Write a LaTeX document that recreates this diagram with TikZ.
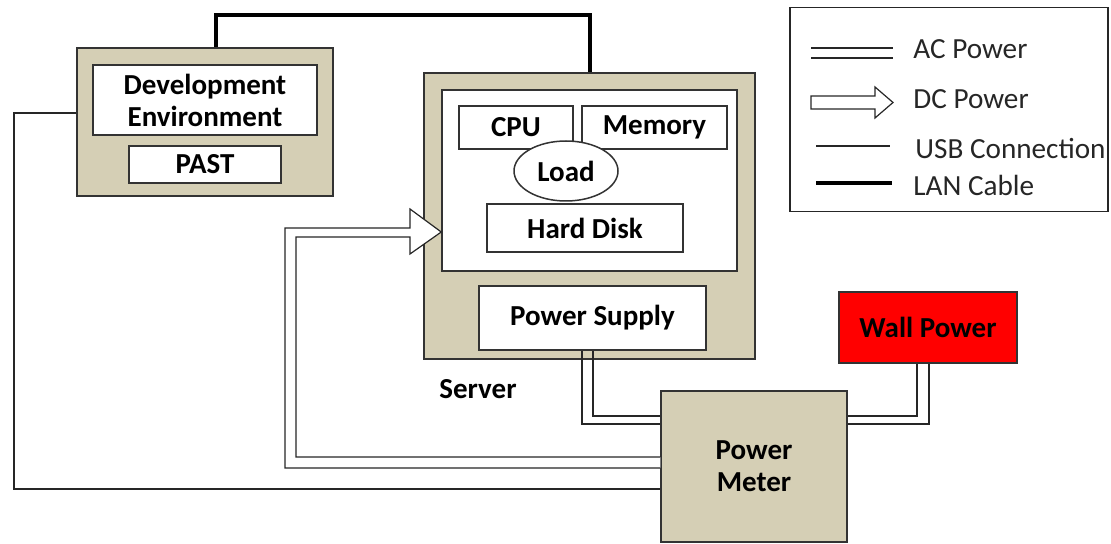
\documentclass[tikz,border=0pt]{standalone}
\usepackage{fontspec}
\setmainfont{Carlito}
\usetikzlibrary{shapes.geometric}
\definecolor{tan}{RGB}{213,207,181}
\begin{document}
\begin{tikzpicture}[x=0.5pt,y=-0.5pt,
  frame/.style={draw=black!80,line width=0.75pt,fill=tan,inner sep=0pt},
  part/.style={draw=black!80,line width=0.75pt,fill=white,inner sep=0pt,
    font=\bfseries\fontsize{14.5}{16}\selectfont,align=center},
  wire/.style={draw=black!85,line width=0.6pt},
  lan/.style={draw=black,line width=1.7pt},
  key/.style={anchor=west,inner sep=0pt,font=\fontsize{14.6}{16}\selectfont,text=black!85}]
\useasboundingbox (0,0) rectangle (1111,544);
% development machine
\node[frame,minimum width=128pt,minimum height=74pt] (dev) at (205,122) {};
\node[part,minimum width=112pt,minimum height=35pt] (devenv) at (205,100) {Development\\Environment};
\node[part,minimum width=76pt,minimum height=18.5pt] (past) at (205,164.5) {PAST};
% server
\node[frame,minimum width=165.5pt,minimum height=143pt] (srv) at (589.5,216) {};
\node[part,minimum width=147.5pt,minimum height=90.5pt] (srvin) at (589.5,180.5) {};
\node[part,minimum width=57pt,minimum height=21.5pt] (cpu) at (516,127.5) {CPU};
\node[part,minimum width=72.5pt,minimum height=21.5pt] (mem) at (654.5,127.5) {Memory};
\node[part,ellipse,minimum width=52pt,minimum height=30pt] (load) at (566,171) {Load};
\node[part,minimum width=98pt,minimum height=24pt] (disk) at (585,228) {Hard Disk};
\node[part,minimum width=113.5pt,minimum height=32pt] (psu) at (592.5,318) {Power Supply};
\node[font=\bfseries\fontsize{14.5}{16}\selectfont] (srvlbl) at (478,389) {Server};
% wall and meter
\node[part,fill=red,minimum width=89pt,minimum height=35.5pt] (wall) at (928,327.5) {Wall Power};
\node[frame,font=\bfseries\fontsize{14.5}{16}\selectfont,align=center,
  minimum width=93pt,minimum height=75.5pt] (meter) at (754,466.5) {Power\\Meter};
% LAN cable
\draw[lan] (dev.north -| 216,0) |- (590,15) -- (srv.north -| 590,0);
% USB connection
\draw[wire] (dev.west |- 0,113) -| (14,489) -- (meter.west |- 0,489);
% AC power
\draw[wire] (psu.south -| 582,0) |- (meter.west |- 0,424);
\draw[wire] (psu.south -| 593,0) |- (meter.west |- 0,416);
\draw[wire] (wall.south -| 917,0) |- (meter.east |- 0,416);
\draw[wire] (wall.south -| 929,0) |- (meter.east |- 0,424);
% DC power
\draw[wire,fill=white] (meter.west |- 0,457) -- (296,457) -- (296,237) -- (410,237)
  -- (410,254) -- (srvin.west |- 0,232) -- (410,209) -- (410,228) -- (285,228)
  -- (285,468) -- (meter.west |- 0,468);
% legend
\node[draw=black!85,line width=0.75pt,minimum width=159pt,minimum height=102pt] (legend) at (949,109.5) {};
\draw[wire] (811,48) -- (893,48);
\draw[wire] (811,58) -- (893,58);
\draw[wire] (811,96) -- (875,96) -- (875,87) -- (893,102.5) -- (875,118) -- (875,109) -- (811,109) -- cycle;
\draw[wire] (816,146) -- (890,146);
\draw[lan] (816,183) -- (892,183);
\node[key] (acl) at (913,49) {AC Power};
\node[key] (dcl) at (913,99) {DC Power};
\node[key] (usbl) at (915,149) {USB Connection};
\node[key] (lanl) at (913,185) {LAN Cable};
\end{tikzpicture}
\end{document}
